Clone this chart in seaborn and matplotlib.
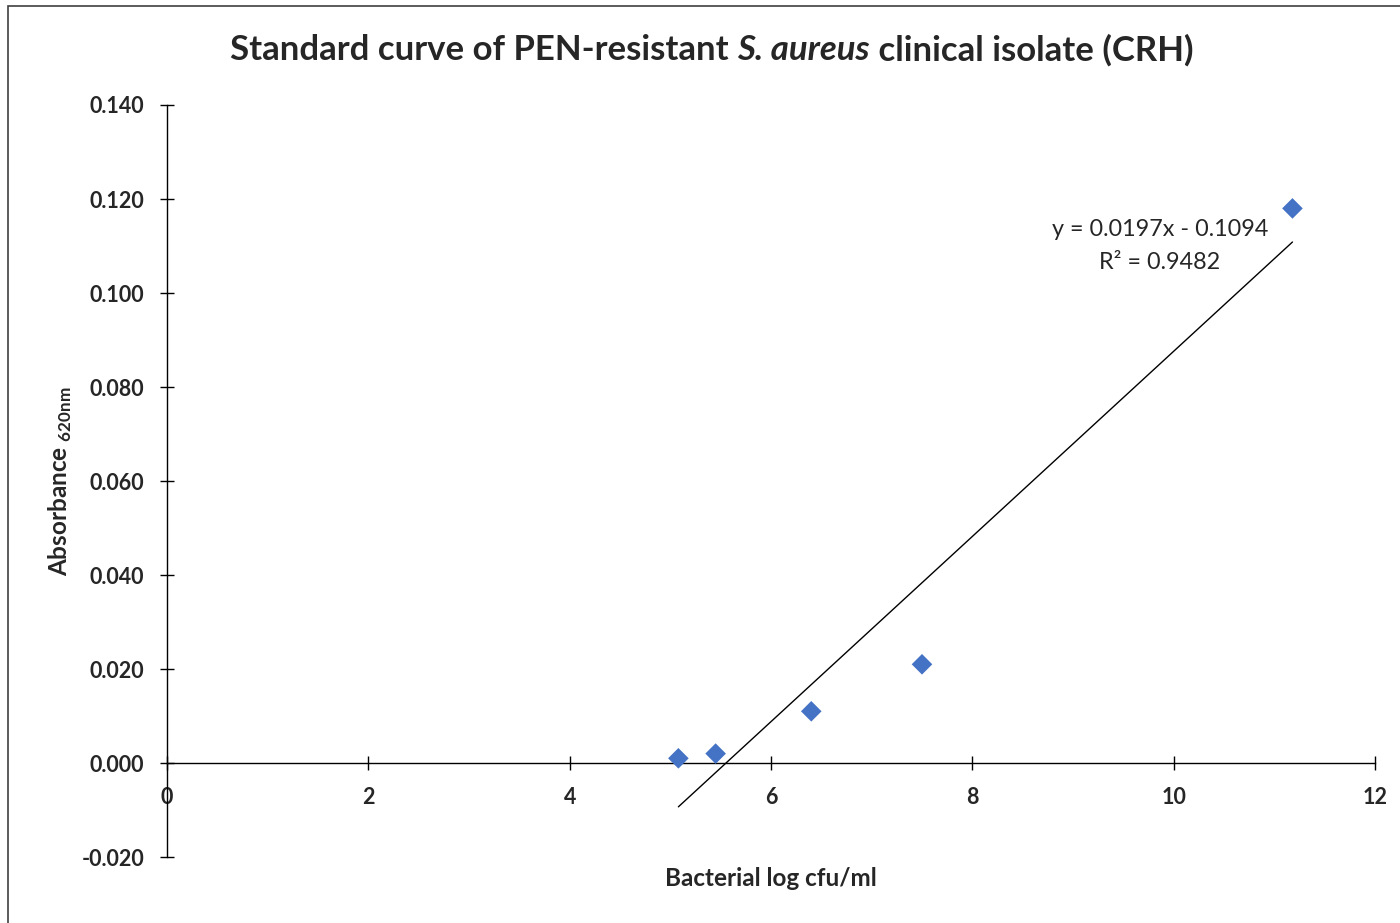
import numpy as np
import pandas as pd
import matplotlib
matplotlib.use("Agg")
import matplotlib.pyplot as plt
from matplotlib.patches import Rectangle
import seaborn as sns

# Standard curve measurements
log_cfu = [5.08, 5.45, 6.40, 7.50, 11.18]
absorbance = [0.001, 0.002, 0.011, 0.021, 0.118]

# Linear trendline coefficients
slope = 0.0197
intercept = -0.1094
r_squared = 0.9482

x_ticks = [0, 2, 4, 6, 8, 10, 12]
y_ticks = [-0.020, 0.000, 0.020, 0.040, 0.060, 0.080, 0.100, 0.120, 0.140]

sns.set_style("white")
plt.rcParams["font.family"] = ["Lato", "DejaVu Sans"]
plt.rcParams["mathtext.fontset"] = "custom"
plt.rcParams["mathtext.rm"] = "Lato"
plt.rcParams["mathtext.bf"] = "Lato:bold"

df = pd.DataFrame({"log_cfu": log_cfu, "absorbance": absorbance})

fig = plt.figure(figsize=(14, 9.23), dpi=100)
ax = fig.add_axes([167 / 1400, 1 - 857 / 923, (1375 - 167) / 1400, (857 - 105) / 923])

# Axis lines: x axis crosses at y = 0
for side in ["top", "right"]:
    ax.spines[side].set_visible(False)
ax.spines["bottom"].set_position(("data", 0))
for side in ["left", "bottom"]:
    ax.spines[side].set_color("black")
    ax.spines[side].set_linewidth(1.0)

sns.scatterplot(data=df, x="log_cfu", y="absorbance", marker="D", s=110,
                color="#4472C4", edgecolor="none", ax=ax, zorder=3)

# Trendline over the measured range
xs = np.array([min(log_cfu), max(log_cfu)])
ax.plot(xs, slope * xs + intercept, color="black", lw=1.0, zorder=2)

ax.set_xlim(0, 12)
ax.set_ylim(-0.02, 0.14)
ax.set_xticks(x_ticks)
ax.set_yticks(y_ticks)
ax.set_xticklabels([str(t) for t in x_ticks], fontsize=15.5, fontweight="bold")
ax.set_yticklabels([f"{t:.3f}" for t in y_ticks], fontsize=15.5, fontweight="bold")

ax.tick_params(axis="both", which="major", direction="inout", length=10, width=1.0,
               color="black", bottom=True, left=True)
ax.tick_params(axis="x", pad=12)
ax.tick_params(axis="y", pad=11.5)

ax.set_xlabel("")
ax.set_ylabel("")
fig.text(771 / 1400, 1 - 879 / 923, "Bacterial log cfu/ml", fontsize=17.5,
         fontweight="bold", ha="center", va="center")
fig.text(60 / 1400, 1 - 481 / 923, r"Absorbance $_{\mathbf{620nm}}$", fontsize=17.5,
         fontweight="bold", ha="center", va="center", rotation=90)

# Title with italic species name
title_y = 1 - 50 / 923
t1 = fig.text(0, title_y, "Standard curve of PEN-resistant ", fontsize=25,
              fontweight="bold", va="center")
t2 = fig.text(0, title_y, "S. aureus", fontsize=25, fontweight="bold",
              style="italic", va="center")
t3 = fig.text(0, title_y, " clinical isolate (CRH)", fontsize=25,
              fontweight="bold", va="center")
fig.canvas.draw()
r = fig.canvas.get_renderer()
widths = [t.get_window_extent(r).width for t in (t1, t2, t3)]
start = 712 - sum(widths) / 2
x = start
for t, w in zip((t1, t2, t3), widths):
    t.set_x(x / 1400)
    x += w

# Trendline equation
ax.text(1160 / 1400, 1 - 230 / 923, f"y = {slope:.4f}x - {abs(intercept):.4f}",
        transform=fig.transFigure, fontsize=16.8, ha="center", va="center")
ax.text(1160 / 1400, 1 - 262 / 923, f"R² = {r_squared:.4f}",
        transform=fig.transFigure, fontsize=16.8, ha="center", va="center")

# Chart area border
fig.patches.append(Rectangle((8 / 1400, -0.5), 2, 0.5 + 1 - 6 / 923,
                             transform=fig.transFigure, fill=False,
                             edgecolor="#404040", linewidth=1.2))

fig.savefig("out.png", dpi=100)
